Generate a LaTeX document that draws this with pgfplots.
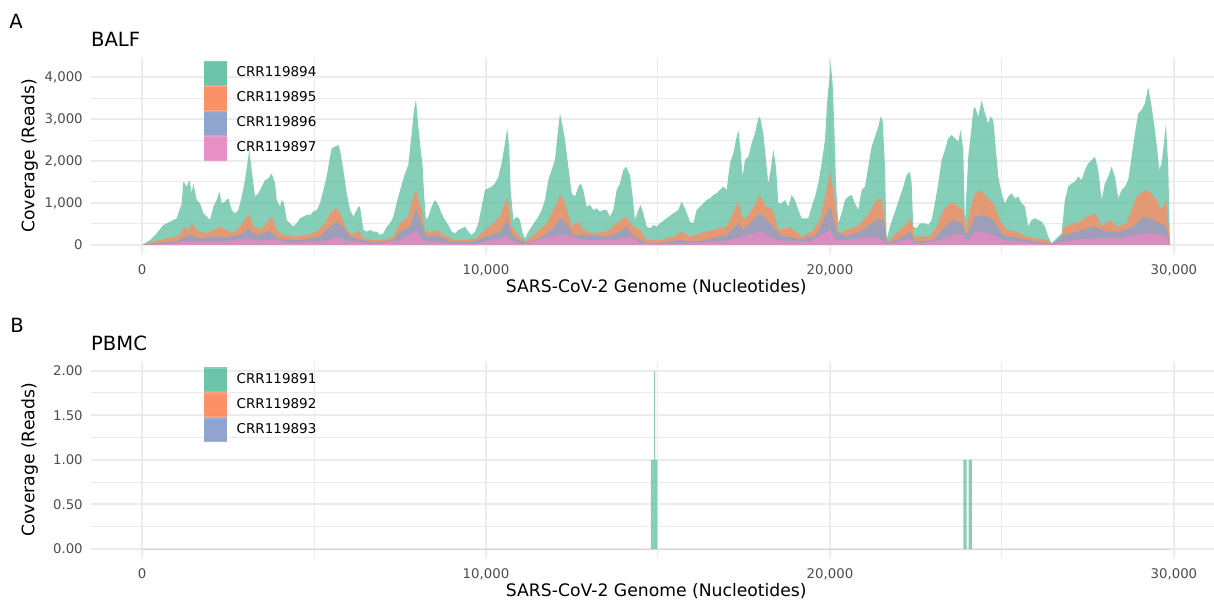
\documentclass[border=0pt]{standalone}
\usepackage{fontspec}
\setmainfont{DejaVu Sans}
\usepackage{pgfplots}
\pgfplotsset{compat=1.18}
\definecolor{cA}{HTML}{66C2A5}
\definecolor{cB}{HTML}{FC8D62}
\definecolor{cC}{HTML}{8DA0CB}
\definecolor{cD}{HTML}{E78AC3}
\definecolor{gridc}{HTML}{EBEBEB}
\definecolor{tickc}{HTML}{4D4D4D}
\pgfplotsset{
  legend image code/.code={\path (0pt,-6.25pt) rectangle (11.35pt,6.25pt); \fill[#1, fill opacity=0.8] (0pt,-5.675pt) rectangle (11.35pt,5.675pt);},
  panel/.style={
    scale only axis, width=565.7pt, height=98.15pt,
    xmin=-1495, xmax=31398,
    scaled x ticks=false, scaled y ticks=false,
    axis line style={draw=none}, tick style={draw=none},
    major tick length=0pt, minor tick length=0pt,
    xtick={0,10000,20000,30000},
    xticklabels={0,{10,000},{20,000},{30,000}},
    minor xtick={5000,15000,25000},
    grid=both,
    major grid style={draw=gridc, line width=1pt},
    minor grid style={draw=gridc, line width=0.5pt},
    xticklabel style={font=\fontsize{6.65}{8}\selectfont, text=tickc, anchor=north, inner sep=0pt, yshift=-5pt},
    yticklabel style={font=\fontsize{6.65}{8}\selectfont, text=tickc, anchor=base east, inner sep=0pt, xshift=-3.75pt, yshift=-2.4pt},
    every axis x label/.style={at={(axis description cs:0.5,0)}, anchor=base, yshift=-19pt, font=\fontsize{8.6}{10}\selectfont},
    every axis y label/.style={at={(axis description cs:-0.0539,0.5)}, anchor=center, rotate=90, font=\fontsize{8.6}{10}\selectfont},
    xlabel={SARS-CoV-2 Genome (Nucleotides)},
    ylabel={Coverage (Reads)},
    legend cell align=left,
    legend style={anchor=north west, draw=none, fill=none, inner sep=0pt, outer sep=0pt, row sep=0pt, column sep=5pt, font=\fontsize{6.75}{8}\selectfont, nodes={inner sep=0pt}},
  },
}
\begin{document}
\begin{tikzpicture}
\useasboundingbox (0,0) rectangle (607pt,-300pt);
\begin{axis}[panel, at={(45.3pt,-127pt)}, anchor=south west,
  ymin=-215, ymax=4460,
  ytick={0,1000,2000,3000,4000}, yticklabels={0,{1,000},{2,000},{3,000},{4,000}},
  minor ytick={500,1500,2500,3500},
  legend style={at={(0.1002,0.9847)}}]
\addplot[fill=cA, fill opacity=0.8, draw=none] coordinates {
(0,0) (233,119) (427,278) (620,476) (814,556) (1008,635) (1153,992) (1202,1508) (1299,1389) (1376,1548) (1444,1230) (1492,1468) (1589,1071) (1686,992) (1783,754) (1880,675) (1977,595) (2074,913) (2171,1071) (2248,1270) (2316,992) (2413,1032) (2510,1111) (2607,833) (2704,754) (2801,833) (2897,1151) (2994,1548) (3062,1945) (3120,2262) (3188,1786) (3285,1151) (3382,1230) (3479,1389) (3576,1548) (3673,1587) (3770,1706) (3866,1468) (3915,1071) (4012,913) (4060,1071) (4128,992) (4206,595) (4303,516) (4399,437) (4496,516) (4593,635) (4690,675) (4787,714) (4884,714) (4981,794) (5078,833) (5175,992) (5272,1310) (5368,1627) (5465,2103) (5514,2302) (5611,2341) (5708,2381) (5756,2262) (5853,1786) (5950,1230) (6047,833) (6144,675) (6192,754) (6289,913) (6337,913) (6386,635) (6434,357) (6531,317) (6628,357) (6725,317) (6822,317) (6919,238) (7016,278) (7113,437) (7210,516) (7306,675) (7403,1000)
(7500,1300) (7645,1706) (7742,1905) (7839,2659) (7907,3214) (7965,3468) (8033,2818) (8101,2262) (8159,1865) (8198,1230) (8256,595) (8324,675) (8421,913) (8517,1071) (8614,952) (8711,754) (8808,595) (8905,476) (9002,317) (9099,278) (9196,357) (9293,397) (9390,437) (9486,317) (9583,238) (9680,317) (9777,516) (9874,913) (9971,1310) (10068,1349) (10165,1389) (10262,1468) (10359,1627) (10455,1945) (10552,2421) (10620,2778) (10678,2262) (10717,1310) (10795,595) (10892,675) (10988,595) (11066,278) (11134,159) (11231,317) (11328,437) (11424,556) (11521,675) (11618,833) (11715,1071) (11812,1548) (11909,1786) (12006,2024) (12074,2580) (12151,3135) (12229,2818) (12297,2500) (12393,1865) (12490,1230) (12587,1151) (12684,1389) (12752,1468) (12830,1310) (12926,913) (13023,952) (13120,833) (13217,873) (13314,794) (13411,833) (13508,833) (13605,675) (13702,833) (13799,1310) (13895,1468) (13992,1786) (14070,1865) (14186,1667) (14264,1151) (14331,595) (14428,833) (14496,952) (14574,754) (14671,437) (14768,397) (14864,476) (14961,437)
(15058,516) (15252,635) (15446,754) (15591,833) (15688,1032) (15785,873) (15930,556) (16027,516) (16124,833) (16221,913) (16318,992) (16415,1071) (16512,1111) (16608,1191) (16705,1230) (16802,1310) (16899,1389) (16996,1310) (17093,1945) (17190,2183) (17267,2500) (17335,2738) (17403,2262) (17461,1627) (17529,2024) (17626,2103) (17723,2421) (17820,2659) (17917,3016) (17965,3056) (18062,2659) (18139,2024) (18207,1468) (18275,1786) (18353,2262) (18430,1865) (18498,992) (18595,992) (18692,1071) (18789,913) (18886,1191) (18982,1071) (19079,833) (19176,635) (19273,635) (19370,635) (19467,913) (19564,1151) (19661,1468) (19758,1945) (19855,2500) (19922,3453) (19981,3929) (20019,4365) (20077,3849) (20116,3056) (20174,1468) (20242,516) (20339,754) (20436,1071) (20533,1151) (20630,1191) (20727,992) (20824,833) (20920,1310) (21017,1389) (21114,1865) (21211,2341) (21308,2580) (21405,2818) (21473,3056) (21531,2976) (21599,1865) (21647,119) (21744,437) (21841,675) (21938,913) (22035,1151) (22132,1389) (22229,1667) (22326,1746) (22374,1468) (22422,437) (22519,397)
(22616,516) (22761,516) (22858,476) (22955,595) (23052,992) (23149,1468) (23246,2024) (23343,2262) (23440,2540) (23537,2619) (23633,2540) (23730,2460) (23798,2738) (23876,2262) (23924,516) (24021,2103) (24118,2818) (24166,3214) (24215,3294) (24312,3056) (24409,3453) (24506,3135) (24602,2897) (24670,3056) (24748,2976) (24825,2262) (24893,1627) (24990,1230) (25087,992) (25184,1151) (25281,1230) (25378,1111) (25475,1151) (25571,992) (25668,913) (25765,437) (25862,595) (25959,635) (26056,595) (26153,556) (26250,437) (26347,198) (26444,40) (26540,119) (26637,198) (26734,278) (26831,1071) (26928,1389) (27025,1468) (27122,1508) (27219,1627) (27316,1548) (27413,1786) (27509,1945) (27606,2024) (27703,2103) (27800,1786) (27897,1071) (27994,1468) (28091,1627) (28188,1865) (28285,1627) (28382,1111) (28478,1310) (28575,1389) (28672,1548) (28769,2103) (28866,2659) (28963,3135) (29060,3214) (29157,3373) (29254,3760) (29351,3294) (29447,2738) (29515,2262) (29574,1786) (29641,1945) (29709,2421) (29767,2897) (29835,1865) (29884,40) (29903,0)
} \closedcycle;
\addlegendentry{CRR119894}
\addplot[fill=cB, fill opacity=0.8, draw=none] coordinates {
(0,0) (330,79) (717,159) (1008,198) (1153,317) (1250,437) (1347,357) (1444,516) (1541,397) (1686,317) (1880,278) (2074,357) (2268,437) (2461,357) (2655,278) (2849,437) (3043,675) (3140,714) (3237,437) (3430,357) (3624,516) (3770,675) (3915,357) (4109,238) (4399,198) (4787,238) (5078,317) (5320,516) (5465,754) (5611,873) (5708,833) (5805,675) (5950,357) (6144,238) (6289,357) (6434,159) (6725,119) (7016,119) (7306,198)
(7500,516) (7742,675) (7888,1151) (7965,1310) (8033,1071) (8130,833) (8227,317) (8421,317) (8566,357) (8760,238) (9050,119) (9438,119) (9729,159) (9971,357) (10213,516) (10407,675) (10620,1151) (10746,437) (10892,278) (11134,79) (11376,238) (11764,516) (12054,992) (12151,1191) (12297,992) (12490,437) (12684,556) (12830,357) (13120,278) (13508,317) (13799,516) (14070,675) (14283,437) (14477,357) (14671,119)
(15058,119) (15446,198) (15688,317) (15930,198) (16221,278) (16608,357) (16996,437) (17335,1032) (17481,595) (17674,754) (17965,1191) (18139,913) (18353,833) (18498,357) (18837,437) (19176,198) (19467,317) (19709,595) (19903,1310) (20000,1746) (20145,1071) (20242,278) (20484,357) (20775,437) (21066,675) (21357,1071) (21502,1111) (21599,516) (21667,79) (21938,278) (22229,516) (22374,635) (22442,198)
(22616,198) (22907,198) (23101,437) (23294,833) (23537,1032) (23730,913) (23876,833) (23953,317) (24070,833) (24215,1230) (24409,1310) (24554,1151) (24748,992) (24942,595) (25135,357) (25426,317) (25717,198) (26008,159) (26298,119) (26444,40) (26686,119) (26831,437) (27073,516) (27267,556) (27461,675) (27703,754) (27897,437) (28139,595) (28333,437) (28624,516) (28915,1151) (29157,1310) (29302,1270) (29496,1071) (29641,833) (29787,1071) (29884,40) (29903,0)
} \closedcycle;
\addlegendentry{CRR119895}
\addplot[fill=cC, fill opacity=0.8, draw=none] coordinates {
(0,0) (523,56) (1008,79) (1153,159) (1396,238) (1686,159) (2074,198) (2461,183) (2849,238) (3091,397) (3285,238) (3721,317) (4012,135) (4593,119) (5175,198) (5465,437) (5659,556) (5853,437) (6047,198) (6337,135) (6725,56) (7306,119)
(7500,317) (7791,437) (7965,873) (8130,516) (8275,198) (8566,238) (8954,79) (9632,79) (10019,198) (10407,317) (10620,595) (10795,198) (11134,56) (11570,159) (11957,397) (12151,635) (12345,516) (12539,238) (12926,238) (13508,198) (13895,317) (14089,437) (14283,198) (14671,56)
(15058,56) (15639,119) (16027,79) (16608,159) (16996,238) (17335,516) (17481,357) (17965,754) (18256,516) (18546,238) (19128,135) (19612,238) (20000,913) (20194,317) (20484,214) (20872,317) (21357,595) (21551,595) (21667,56) (22035,159) (22326,317) (22471,79)
(22616,79) (23004,119) (23294,397) (23585,595) (23827,516) (23973,238) (24215,675) (24457,714) (24748,595) (25039,238) (25523,159) (26008,79) (26444,24) (26783,238) (27170,317) (27655,437) (28042,317) (28430,317) (28818,437) (29108,675) (29399,595) (29787,437) (29884,20) (29903,0)
} \closedcycle;
\addlegendentry{CRR119896}
\addplot[fill=cD, fill opacity=0.8, draw=none] coordinates {
(0,0) (911,40) (1202,79) (1880,79) (2365,79) (3043,159) (3334,103) (3818,135) (4303,56) (5175,79) (5659,183) (5950,103) (6725,24)
(7500,119) (7965,317) (8178,119) (8954,40) (9729,40) (10620,198) (10795,79) (11134,24) (12054,238) (12345,238) (12830,119) (13799,135) (14186,198) (14477,56)
(15058,40) (16027,56) (16996,103) (17965,317) (18450,119) (19419,79) (20000,357) (20194,103) (21357,198) (21647,24) (22326,159) (22471,40)
(22616,40) (23197,119) (23585,238) (23876,238) (23973,79) (24215,317) (24554,294) (25039,119) (26008,40) (26444,16) (26977,119) (27655,159) (28430,159) (29205,294) (29787,198) (29884,20) (29903,0)
} \closedcycle;
\addlegendentry{CRR119897}
\end{axis}
\begin{axis}[panel, at={(45.3pt,-279pt)}, anchor=south west,
  ymin=-0.1, ymax=2.1,
  ytick={0,0.5,1,1.5,2}, yticklabels={0.00,0.50,1.00,1.50,2.00},
  minor ytick={0.25,0.75,1.25,1.75},
  legend style={at={(0.1002,0.971)}}]
\addplot[fill=cA, fill opacity=0.8, draw=none] coordinates {
(0,0) (14797,0) (14797,1) (14980,1) (14980,0) (23875,0) (23875,1) (23974,1) (23974,0) (24032,0) (24032,1) (24128,1) (24128,0) (29903,0)
} \closedcycle;
\addlegendentry{CRR119891}
\addplot[fill=cB, fill opacity=0.8, draw=none] coordinates {(0,0) (29903,0)} \closedcycle;
\addlegendentry{CRR119892}
\addplot[fill=cC, fill opacity=0.8, draw=none] coordinates {(0,0) (29903,0)} \closedcycle;
\addlegendentry{CRR119893}
\addplot[draw=cA, draw opacity=0.8, line width=0.5pt, forget plot] coordinates {(14893,1) (14893,2)};
\end{axis}
\node[anchor=base west, inner sep=0pt, font=\fontsize{9.8}{11}\selectfont] at (4.5pt,-14pt) {A};
\node[anchor=base west, inner sep=0pt, font=\fontsize{9.8}{11}\selectfont] at (45.35pt,-23.35pt) {BALF};
\node[anchor=base west, inner sep=0pt, font=\fontsize{9.8}{11}\selectfont] at (5pt,-166pt) {B};
\node[anchor=base west, inner sep=0pt, font=\fontsize{9.8}{11}\selectfont] at (45.35pt,-175pt) {PBMC};
\end{tikzpicture}
\end{document}
